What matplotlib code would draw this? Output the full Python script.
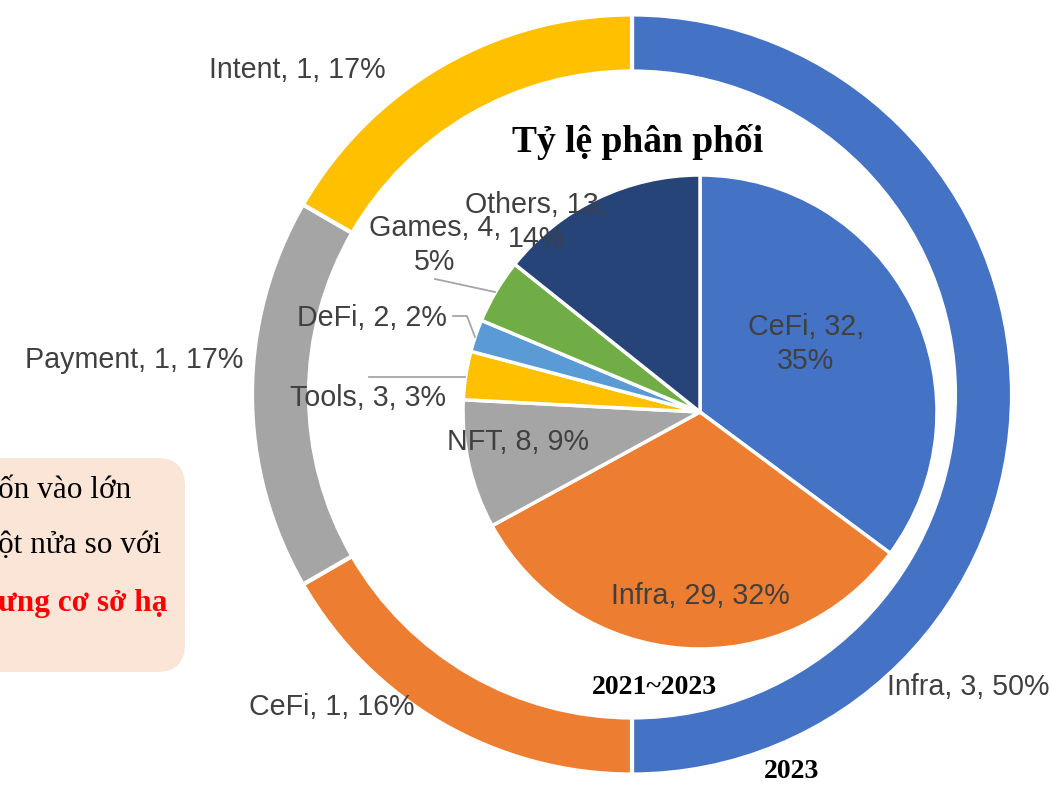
import matplotlib
matplotlib.use("Agg")
import matplotlib.pyplot as plt
from matplotlib.patches import FancyBboxPatch

# outer ring: 2023
outer_names = ["Infra", "CeFi", "Payment", "Intent"]
outer_counts = [3, 1, 1, 1]
outer_pcts = ["50%", "16%", "17%", "17%"]
outer_colors = ["#4472C4", "#ED7D31", "#A5A5A5", "#FFC000"]

# inner pie: 2021~2023
inner_names = ["CeFi", "Infra", "NFT", "Tools", "DeFi", "Games", "Others"]
inner_counts = [32, 29, 8, 3, 2, 4, 13]
inner_pcts = ["35%", "32%", "9%", "3%", "2%", "5%", "14%"]
inner_colors = ["#4472C4", "#ED7D31", "#A5A5A5", "#FFC000", "#5B9BD5", "#70AD47", "#264478"]

W, H = 1051, 785
fig = plt.figure(figsize=(W / 100, H / 100), dpi=100)
ax = fig.add_axes([0, 0, 1, 1])

def py(y):
    # pixel row -> data y
    return H - y

ax.pie(outer_counts, colors=outer_colors, startangle=90, counterclock=False,
       center=(632, py(394.5)), radius=380,
       wedgeprops=dict(width=57, edgecolor="white", linewidth=3))
ax.pie(inner_counts, colors=inner_colors, startangle=90, counterclock=False,
       center=(700, py(412)), radius=237,
       wedgeprops=dict(edgecolor="white", linewidth=2.5))
ax.set_xlim(0, W)
ax.set_ylim(0, H)
ax.set_aspect("equal")
ax.axis("off")

lab_kw = dict(fontsize=20.6, color="#404040", family=["Liberation Sans", "DejaVu Sans"],
              ha="center", va="center", linespacing=1.25)

outer_pos = [(968, 687), (332, 707), (134, 360), (297, 70)]
for name, n, p, (x, y) in zip(outer_names, outer_counts, outer_pcts, outer_pos):
    ax.text(x, py(y), f"{name}, {n}, {p}", **lab_kw)

inner_pos = [(806, 344), (700, 596), (518, 442), (368, 398), (372, 318), (435, 245), (536, 222)]
inner_wrap = [True, False, False, False, False, True, True]
for name, n, p, (x, y), wrap in zip(inner_names, inner_counts, inner_pcts, inner_pos, inner_wrap):
    sep = "\n" if wrap else " "
    ax.text(x, py(y), f"{name}, {n},{sep}{p}", **lab_kw)

# leader lines
lc = dict(color="#A6A6A6", linewidth=1.3)
ax.plot([369, 465], [py(377), py(377)], **lc)
ax.plot([453, 467, 475], [py(316), py(316), py(337)], **lc)
ax.plot([435, 495], [py(279), py(292)], **lc)

serif = ["Liberation Serif", "DejaVu Serif"]
ax.text(638, py(142), "Tỷ lệ phân phối", fontsize=27, fontweight="bold",
        family=serif, ha="center", va="center")
ax.text(654, py(688), "2021~2023", fontsize=20, fontweight="bold",
        family=serif, ha="center", va="center")
ax.text(792, py(771), "2023", fontsize=20, fontweight="bold",
        family=serif, ha="center", va="center")

# note box cut at the left edge
box = FancyBboxPatch((-60, py(672)), 245, 214, boxstyle="round,pad=0,rounding_size=28",
                     facecolor="#FBE5D6", edgecolor="none")
ax.add_patch(box)
box_kw = dict(fontsize=22.5, family=serif, ha="left", va="center")
ax.text(-2, py(490), "ốn vào lớn", **box_kw)
ax.text(-2, py(546), "ột nửa so với", **box_kw)
ax.text(-2, py(603), "ưng cơ sở hạ", fontweight="bold", color="#FF0000", **box_kw)

fig.savefig("out.png", dpi=100)
